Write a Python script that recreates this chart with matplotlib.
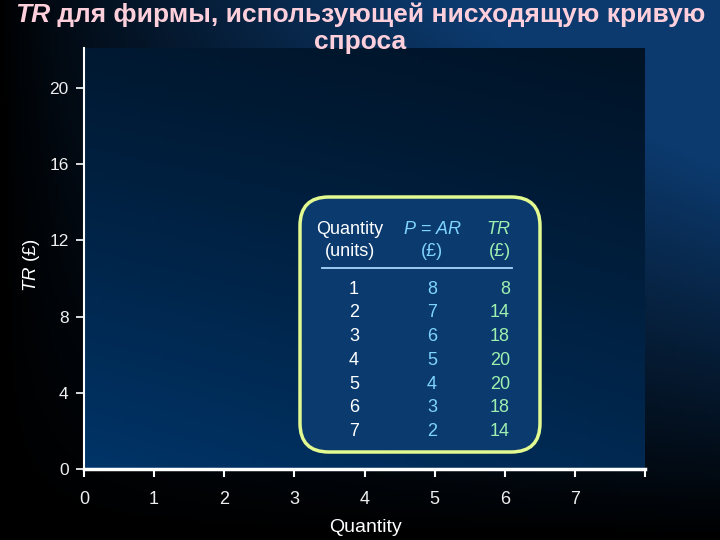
import numpy as np
import matplotlib
matplotlib.use("Agg")
import matplotlib.pyplot as plt
from matplotlib.patches import FancyBboxPatch
from matplotlib.lines import Line2D

# ---- data ----
quantity = [1, 2, 3, 4, 5, 6, 7]
price_ar = [8, 7, 6, 5, 4, 3, 2]
total_rev = [8, 14, 18, 20, 20, 18, 14]
x_ticks = [0, 1, 2, 3, 4, 5, 6, 7, 8]
x_tick_labels = ["0", "1", "2", "3", "4", "5", "6", "7", ""]
y_ticks = [0, 4, 8, 12, 16, 20]
title_it = "TR"
title_rest = " для фирмы, использующей нисходящую кривую"
title_line2 = "спроса"
xlabel = "Quantity"

plt.rcParams['font.family'] = ['Liberation Sans', 'DejaVu Sans']
plt.rcParams['mathtext.fontset'] = 'custom'
plt.rcParams['mathtext.rm'] = 'Liberation Sans'
plt.rcParams['mathtext.it'] = 'Liberation Sans:italic'

W, H = 720, 540
fig = plt.figure(figsize=(7.2, 5.4), dpi=100)

def fx(px):
    return px / W

def fy(py):
    return 1 - py / H

# background gradient
bg = fig.add_axes([0, 0, 1, 1], zorder=0)
bg.set_axis_off()
xx, yy = np.meshgrid(np.linspace(0, 1, 200), np.linspace(0, 1, 150))
f = np.clip(xx ** 0.8 * (1 - yy) ** 1.0 * 1.45, 0, 1)
blue = np.array([12, 58, 110]) / 255
img = f[..., None] * blue[None, None, :]
bg.imshow(img, extent=[0, 1, 0, 1], aspect='auto', origin='upper')
bg.set_xlim(0, 1)
bg.set_ylim(0, 1)

# main axes
ax_l, ax_r, ax_t, ax_b = 84, 645, 48, 469
ytop = (ax_b - ax_t) / 19.05
ax = fig.add_axes([fx(ax_l), fy(ax_b), fx(ax_r - ax_l), (ax_b - ax_t) / H], zorder=1)
ax.set_xlim(0, 8)
ax.set_ylim(0, ytop)
px, py = np.meshgrid(np.linspace(0, 1, 100), np.linspace(0, 1, 100))
g = (0.48 + 0.52 * (1 - py) ** 1.1) * (1 - 0.22 * px)
pblue = np.array([0, 52, 104]) / 255
pimg = g[..., None] * pblue[None, None, :]
ax.imshow(pimg, extent=[0, 8, 0, ytop], aspect='auto', origin='lower', zorder=0)
ax.set_facecolor('none')

for s in ['top', 'right']:
    ax.spines[s].set_visible(False)
ax.spines['left'].set_color('white')
ax.spines['left'].set_linewidth(1.5)
ax.spines['bottom'].set_color('white')
ax.spines['bottom'].set_linewidth(2.5)
ax.set_xticks(x_ticks)
ax.set_xticklabels(x_tick_labels)
ax.set_yticks(y_ticks)
ax.tick_params(axis='x', colors='white', direction='out', length=6, width=1.5, pad=10, labelsize=13)
ax.tick_params(axis='y', colors='white', direction='out', length=6, width=1.2, pad=5, labelsize=12.5)
for t in ax.get_xticklabels() + ax.get_yticklabels():
    t.set_color('#eeeeee')

# axis labels
fig.text(fx(366), fy(527), xlabel, color='white', fontsize=14, ha='center', va='center')
fig.text(fx(32), fy(265), r"$TR$ (£)", color='white', fontsize=13.5, ha='center', va='center', rotation=90)

# title
title_color = '#ffd0dc'
fig.canvas.draw()
r = fig.canvas.get_renderer()
t1 = fig.text(0, fy(15), title_it, fontsize=19, fontweight='bold', style='italic', color=title_color, va='center', ha='left')
t2 = fig.text(0, fy(15), title_rest, fontsize=19, fontweight='bold', color=title_color, va='center', ha='left')
w1 = t1.get_window_extent(r).width
w2 = t2.get_window_extent(r).width
start = (W - (w1 + w2)) / 2
t1.set_x(fx(start))
t2.set_x(fx(start + w1))
fig.text(0.5, fy(42), title_line2, fontsize=19, fontweight='bold', color=title_color, ha='center', va='center')

# table box
bx0, bx1, by0, by1 = 300, 540, 197, 452
box = FancyBboxPatch((fx(bx0), fy(by1)), fx(bx1 - bx0), (by1 - by0) / H,
                     boxstyle="round,pad=0,rounding_size=0.04",
                     transform=fig.transFigure, facecolor='#0a3a6e', edgecolor='#e2fa90',
                     linewidth=2.5, zorder=2, mutation_aspect=1.33)
fig.add_artist(box)

white = '#ffffff'
lblue = '#7fd3ff'
green = '#9ff0b0'
fs = 13
col_q, col_p, col_tr = 350, 432, 511
fig.text(fx(col_q), fy(229), "Quantity", color=white, fontsize=fs, ha='center', va='center', zorder=3)
fig.text(fx(col_q), fy(252), "(units)", color=white, fontsize=fs, ha='center', va='center', zorder=3)
fig.text(fx(col_p), fy(229), r"$P$ = $AR$", color=lblue, fontsize=fs, ha='center', va='center', zorder=3)
fig.text(fx(col_p), fy(252), "(£)", color=lblue, fontsize=fs, ha='center', va='center', zorder=3)
fig.text(fx(col_tr), fy(229), r"$TR$", color=green, fontsize=fs, ha='right', va='center', zorder=3)
fig.text(fx(col_tr), fy(252), "(£)", color=green, fontsize=fs, ha='right', va='center', zorder=3)
fig.add_artist(Line2D([fx(322), fx(512)], [fy(268), fy(268)], color='#a8d8ff', lw=1.3,
                      transform=fig.transFigure, zorder=3))

row0, dy = 289, 23.8
for i, (q, p, tr) in enumerate(zip(quantity, price_ar, total_rev)):
    yy_ = fy(row0 + i * dy)
    fig.text(fx(col_q + 4), yy_, str(q), color=white, fontsize=fs, ha='center', va='center', zorder=3)
    fig.text(fx(col_p), yy_, str(p), color=lblue, fontsize=fs, ha='center', va='center', zorder=3)
    fig.text(fx(col_tr - 1), yy_, str(tr), color=green, fontsize=fs, ha='right', va='center', zorder=3)

fig.savefig("out.png", dpi=100, facecolor='black')
